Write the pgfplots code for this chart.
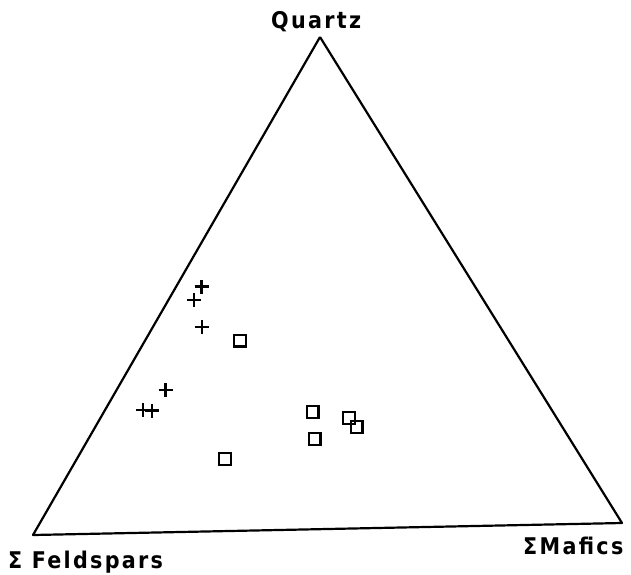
\documentclass[border=0pt]{standalone}
\usepackage{fontspec}
\setmainfont{DejaVu Sans}
\newfontfamily\lab[LetterSpace=10]{DejaVu Sans Condensed Bold}
\usepackage{pgfplots}
\pgfplotsset{compat=1.18}
\begin{document}
\begin{tikzpicture}
\begin{axis}[
  width=631pt, height=574pt, scale only axis,
  xmin=0, xmax=631, ymin=0, ymax=574, y dir=reverse,
  hide axis, clip=false]
\path (rel axis cs:0,0) rectangle (rel axis cs:1,1);
\addplot[black, line width=2.2pt, line join=round, mark=none] coordinates {(320,37) (33,535) (622,523) (320,37)};
\addplot[black, only marks, line width=2.8pt, mark=+, mark size=7pt] coordinates {
(201.7,286.7) (194,300) (202,327) (165.7,390) (143,410) (152,410.7)};
\addplot[black, only marks, line width=2.3pt, mark=square, mark size=5.8pt] coordinates {
(240,340.7) (312.7,412) (349,418) (356.7,427) (314.7,439) (225,459)};
\node[font=\lab\fontsize{23}{27}\selectfont, anchor=base west, inner sep=0pt] at (axis cs:271,28.5) {Quartz};
\node[font=\lab\fontsize{23}{27}\selectfont, anchor=base west, inner sep=0pt] at (axis cs:8,568) {Σ Feldspars};
\node[font=\lab\fontsize{23}{27}\selectfont, anchor=base west, inner sep=0pt] at (axis cs:523,554) {ΣMafics};
\end{axis}
\end{tikzpicture}
\end{document}
